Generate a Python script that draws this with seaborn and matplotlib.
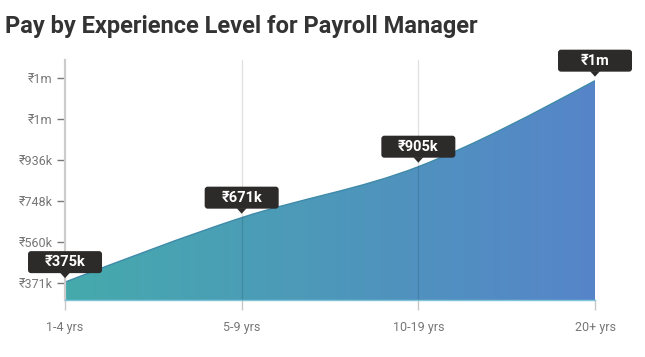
import numpy as np
import pandas as pd
import seaborn as sns
import matplotlib
matplotlib.use("Agg")
import matplotlib.pyplot as plt
import matplotlib.transforms as mtransforms
from matplotlib.path import Path
from matplotlib.patches import PathPatch, FancyBboxPatch, Polygon
from matplotlib.colors import LinearSegmentedColormap

# data
levels = ["1-4 yrs", "5-9 yrs", "10-19 yrs", "20+ yrs"]
pay = [375000, 671000, 905000, 1300000]
pay_labels = ["₹375k", "₹671k", "₹905k", "₹1m"]
ytick_values = [371000, 560000, 748000, 936000, 1124000, 1312000]
ytick_labels = ["₹371k", "₹560k", "₹748k", "₹936k", "₹1m", "₹1m"]

df = pd.DataFrame({"level": levels, "pay": pay})
df["pos"] = range(len(df))

sns.set_theme(style="white")
plt.rcParams["font.family"] = ["Roboto", "Noto Sans", "DejaVu Sans"]

fig = plt.figure(figsize=(6.45, 3.57), dpi=100)
ax = fig.add_axes([0.1008, 0.1597, 0.8217, 0.6723])
ax.set_xlim(0, 3)
ax.set_ylim(293000, 1395000)

# monotone cubic (d3 monotoneX style) bezier through the data points
x = df["pos"].to_numpy(dtype=float)
y = df["pay"].to_numpy(dtype=float)
h = np.diff(x)
s = np.diff(y) / h
m = np.zeros_like(y)
for i in range(1, len(y) - 1):
    p = (s[i - 1] * h[i] + s[i] * h[i - 1]) / (h[i - 1] + h[i])
    m[i] = (np.sign(s[i - 1]) + np.sign(s[i])) * min(abs(s[i - 1]), abs(s[i]), 0.5 * abs(p))
m[0] = (3 * s[0] - m[1]) / 2
m[-1] = (3 * s[-1] - m[-2]) / 2

verts = [(x[0], y[0])]
codes = [Path.MOVETO]
for i in range(len(x) - 1):
    d = h[i] / 3
    verts += [(x[i] + d, y[i] + m[i] * d), (x[i + 1] - d, y[i + 1] - m[i + 1] * d), (x[i + 1], y[i + 1])]
    codes += [Path.CURVE4] * 3
line_path = Path(verts, codes)

y0 = ax.get_ylim()[0]
area_verts = verts + [(x[-1], y0), (x[0], y0), (x[0], y[0])]
area_codes = codes + [Path.LINETO, Path.LINETO, Path.CLOSEPOLY]
area_patch = PathPatch(Path(area_verts, area_codes), facecolor="none", edgecolor="none")
ax.add_patch(area_patch)

cmap = LinearSegmentedColormap.from_list("pay", ["#45aaac", "#5685c9"])
grad = np.linspace(0, 1, 256).reshape(1, -1)
im = ax.imshow(grad, cmap=cmap, aspect="auto", extent=[x[0], x[-1], y0, ax.get_ylim()[1]],
               origin="lower", zorder=1)
im.set_clip_path(area_patch)
ax.add_patch(PathPatch(line_path, facecolor="none", edgecolor="#3f8aa8", lw=1.0, zorder=2))

# vertical grid lines
for xv in x[1:]:
    ax.axvline(xv, color="black", alpha=0.12, lw=0.9, zorder=3)

# ticks and spines
ax.set_xticks(x)
ax.set_xticklabels(levels)
ax.set_yticks(ytick_values)
ax.set_yticklabels(ytick_labels)
ax.tick_params(axis="x", length=7, width=1, color="#c8c8c8", labelsize=9, labelcolor="#777777", pad=8, bottom=True)
ax.tick_params(axis="y", length=6, width=1, color="#777777", labelsize=9, labelcolor="#777777", pad=3, left=True)
sns.despine(ax=ax, top=True, right=True)
ax.spines["left"].set_color("#cccccc")
ax.spines["left"].set_linewidth(1.6)
ax.spines["bottom"].set_color("#7fc4d8")
ax.spines["bottom"].set_linewidth(1.0)
ax.set_facecolor("white")

# dark value labels with pointer
for xi, yi, lab in zip(x, y, pay_labels):
    trans = (mtransforms.Affine2D().scale(1 / 100) + fig.dpi_scale_trans
             + mtransforms.ScaledTranslation(xi, yi, ax.transData))
    box = FancyBboxPatch((-37, 9), 74, 22, boxstyle="round,pad=0,rounding_size=3",
                         facecolor="#2d2a2a", edgecolor="none", transform=trans, clip_on=False, zorder=5)
    ax.add_patch(box)
    tri = Polygon([(-5, 9.5), (5, 9.5), (0, 4)], closed=True, facecolor="#2d2a2a",
                  edgecolor="none", transform=trans, clip_on=False, zorder=5)
    ax.add_patch(tri)
    ax.annotate(lab, (xi, yi), xytext=(0, 20), textcoords="offset pixels", ha="center", va="center",
                color="white", fontsize=10.5, fontweight="bold", zorder=6, annotation_clip=False)

fig.text(0.008, 0.925, "Pay by Experience Level for Payroll Manager", fontsize=17,
         fontweight="bold", color="#333333", ha="left", va="center")

fig.savefig("out.png", dpi=100, facecolor="white")
